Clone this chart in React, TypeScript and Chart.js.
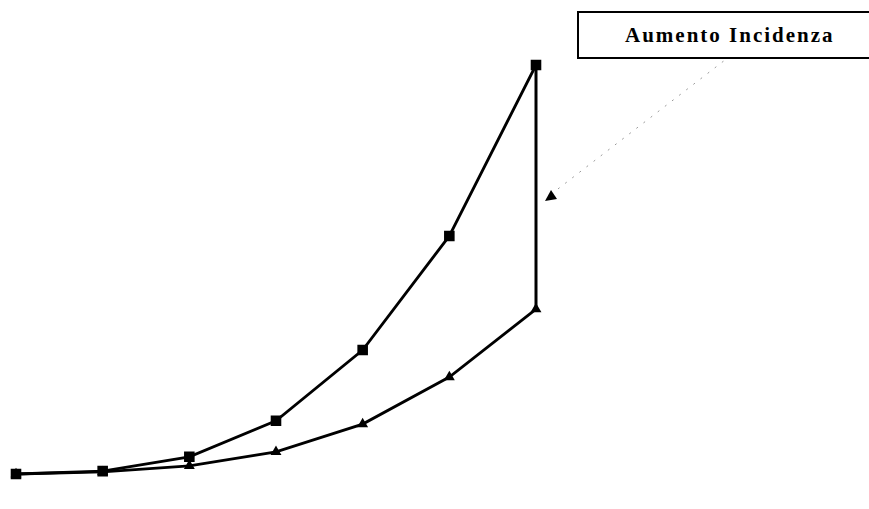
import React, { useEffect, useRef } from 'react';
import { Chart, registerables } from 'chart.js';

Chart.register(...registerables);

const periods = [1, 2, 3, 4, 5, 6, 7];
const upperSeries = [0, 0.7, 4.2, 13.0, 30.3, 58.2, 100];
const lowerSeries = [0, 0.5, 2.0, 5.4, 12.2, 23.7, 40.3];
const annotationLabel = 'Aumento Incidenza';

const annotationPlugin = {
  id: 'incidenceArrow',
  afterDraw(chart: any) {
    const { ctx, scales } = chart;
    const lastX = scales.x.getPixelForValue(periods[periods.length - 1]);
    const tipX = lastX + 15;
    const tipY = scales.y.getPixelForValue(68);
    ctx.save();
    ctx.strokeStyle = '#9a9a9a';
    ctx.lineWidth = 1;
    ctx.setLineDash([2, 7]);
    ctx.beginPath();
    ctx.moveTo(tipX + 7, tipY - 7);
    ctx.lineTo(725, 60);
    ctx.stroke();
    ctx.setLineDash([]);
    ctx.fillStyle = '#000';
    ctx.beginPath();
    ctx.moveTo(tipX, tipY - 6);
    ctx.lineTo(tipX - 6, tipY + 5);
    ctx.lineTo(tipX + 6, tipY + 3);
    ctx.closePath();
    ctx.fill();
    ctx.restore();
  },
};

export default function App() {
  const canvasRef = useRef<HTMLCanvasElement | null>(null);

  useEffect(() => {
    if (!canvasRef.current) return;
    const last = periods.length - 1;
    const chart = new Chart(canvasRef.current, {
      type: 'line',
      data: {
        datasets: [
          {
            label: 'Upper',
            data: periods.map((p, i) => ({ x: p, y: upperSeries[i] })),
            borderColor: '#000',
            backgroundColor: '#000',
            borderWidth: 2.8,
            pointStyle: 'rect',
            pointRadius: 5.5,
            tension: 0,
            clip: false,
          },
          {
            label: 'Lower',
            data: periods.map((p, i) => ({ x: p, y: lowerSeries[i] })),
            borderColor: '#000',
            backgroundColor: '#000',
            borderWidth: 2.8,
            pointStyle: 'triangle',
            pointRadius: 3.5,
            tension: 0,
            clip: false,
          },
          {
            label: 'Gap',
            data: [
              { x: periods[last], y: lowerSeries[last] },
              { x: periods[last], y: upperSeries[last] },
            ],
            borderColor: '#000',
            borderWidth: 3,
            pointRadius: 0,
            tension: 0,
            clip: false,
          },
        ],
      },
      options: {
        responsive: false,
        animation: false,
        events: [],
        layout: { padding: { left: 16, right: 333, top: 65, bottom: 35 } },
        plugins: { legend: { display: false }, tooltip: { enabled: false }, title: { display: false } },
        scales: {
          x: { type: 'linear', min: periods[0], max: periods[last], display: false },
          y: { type: 'linear', min: 0, max: 100, display: false },
        },
      },
      plugins: [annotationPlugin],
    } as any);
    return () => chart.destroy();
  }, []);

  return (
    <div
      style={{
        position: 'fixed',
        left: 0,
        top: 0,
        width: 869,
        height: 509,
        overflow: 'hidden',
        background: '#fff',
      }}
    >
      <canvas ref={canvasRef} width={869} height={509} style={{ display: 'block' }} />
      <div
        style={{
          position: 'absolute',
          left: 577,
          top: 11,
          width: 330,
          height: 48,
          boxSizing: 'border-box',
          border: '2px solid #000',
          display: 'flex',
          alignItems: 'center',
          justifyContent: 'flex-start',
          paddingLeft: 46,
          fontFamily: '"Liberation Serif", "DejaVu Serif", serif',
          fontWeight: 'bold',
          fontSize: 21,
          letterSpacing: 2,
          color: '#000',
          background: '#fff',
        }}
      >
        {annotationLabel}
      </div>
    </div>
  );
}
